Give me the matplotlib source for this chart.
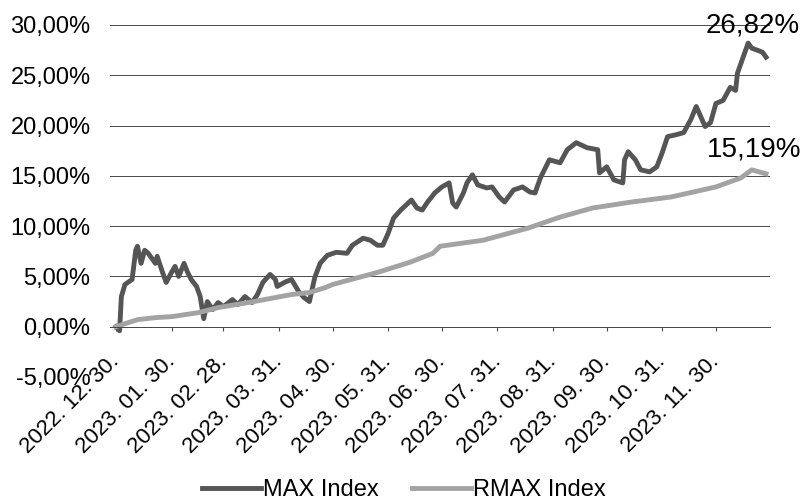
import matplotlib
matplotlib.use("Agg")
import matplotlib.pyplot as plt
import matplotlib.dates as mdates
from matplotlib.ticker import FuncFormatter
import numpy as np

plt.rcParams['font.family'] = ['Liberation Sans', 'DejaVu Sans']

# MAX Index (누적 수익률, %) - 그림에서 읽은 값
max_dates = ["2022-12-30", "2023-01-01", "2023-01-02", "2023-01-04", "2023-01-08", "2023-01-10",
             "2023-01-11", "2023-01-13", "2023-01-15", "2023-01-17", "2023-01-21", "2023-01-22",
             "2023-01-25", "2023-01-27", "2023-01-30", "2023-02-01", "2023-02-03", "2023-02-06",
             "2023-02-08", "2023-02-10", "2023-02-13", "2023-02-15", "2023-02-17", "2023-02-19",
             "2023-02-22", "2023-02-25", "2023-02-28", "2023-03-05", "2023-03-08", "2023-03-12",
             "2023-03-16", "2023-03-19", "2023-03-22", "2023-03-26", "2023-03-29", "2023-03-30",
             "2023-04-03", "2023-04-07", "2023-04-11", "2023-04-14", "2023-04-17", "2023-04-20",
             "2023-04-23", "2023-04-27", "2023-05-02", "2023-05-08", "2023-05-11", "2023-05-17",
             "2023-05-21", "2023-05-25", "2023-05-28", "2023-05-31", "2023-06-03", "2023-06-07",
             "2023-06-10", "2023-06-13", "2023-06-16", "2023-06-19", "2023-06-22", "2023-06-26",
             "2023-06-30", "2023-07-04", "2023-07-06", "2023-07-08", "2023-07-12", "2023-07-14",
             "2023-07-17", "2023-07-20", "2023-07-25", "2023-07-28", "2023-08-01", "2023-08-04",
             "2023-08-09", "2023-08-14", "2023-08-18", "2023-08-21", "2023-08-24", "2023-08-29",
             "2023-09-04", "2023-09-08", "2023-09-13", "2023-09-19", "2023-09-25", "2023-09-26",
             "2023-09-30", "2023-10-04", "2023-10-09", "2023-10-10", "2023-10-12", "2023-10-16",
             "2023-10-19", "2023-10-24", "2023-10-28", "2023-10-31", "2023-11-03", "2023-11-08",
             "2023-11-12", "2023-11-16", "2023-11-19", "2023-11-24", "2023-11-27", "2023-11-30",
             "2023-12-04", "2023-12-08", "2023-12-11", "2023-12-12", "2023-12-15", "2023-12-18",
             "2023-12-20", "2023-12-23", "2023-12-26", "2023-12-28"]
max_vals = [0.0, -0.4, 3.0, 4.2, 4.7, 7.6,
            8.0, 6.3, 7.6, 7.3, 6.3, 7.0,
            5.4, 4.4, 5.4, 6.0, 5.0, 6.3,
            5.4, 4.7, 4.0, 3.0, 0.8, 2.5,
            1.7, 2.4, 2.0, 2.7, 2.2, 3.0,
            2.4, 3.2, 4.4, 5.2, 4.7, 4.0,
            4.4, 4.7, 3.5, 2.9, 2.5, 4.9,
            6.3, 7.1, 7.4, 7.3, 8.1, 8.8,
            8.6, 8.1, 8.1, 9.3, 10.8, 11.6,
            12.1, 12.6, 11.8, 11.6, 12.4, 13.3,
            13.9, 14.3, 12.3, 11.9, 13.3, 14.3,
            15.1, 14.1, 13.8, 13.9, 12.9, 12.4,
            13.6, 13.9, 13.4, 13.3, 14.8, 16.6,
            16.3, 17.6, 18.3, 17.8, 17.6, 15.3,
            15.9, 14.6, 14.3, 16.6, 17.4, 16.6,
            15.6, 15.4, 15.9, 17.3, 18.9, 19.1,
            19.3, 20.6, 21.9, 19.9, 20.3, 22.2,
            22.5, 23.8, 23.5, 25.2, 26.7, 28.2,
            27.7, 27.5, 27.3, 26.8]

# RMAX Index
rmax_dates = ["2022-12-30", "2023-01-04", "2023-01-11", "2023-01-21", "2023-01-30", "2023-02-14",
              "2023-02-25", "2023-03-17", "2023-04-07", "2023-04-17", "2023-04-26", "2023-04-30",
              "2023-05-25", "2023-06-12", "2023-06-25", "2023-06-29", "2023-07-23", "2023-08-17",
              "2023-09-04", "2023-09-22", "2023-10-14", "2023-11-05", "2023-11-30", "2023-12-14",
              "2023-12-20", "2023-12-28"]
rmax_vals = [0.0, 0.3, 0.7, 0.9, 1.0, 1.4,
             1.9, 2.5, 3.2, 3.4, 3.9, 4.2,
             5.4, 6.4, 7.3, 8.0, 8.6, 9.8,
             10.9, 11.8, 12.4, 12.9, 13.9, 14.8,
             15.6, 15.2]

tick_dates = ["2022-12-30", "2023-01-30", "2023-02-28", "2023-03-31", "2023-04-30", "2023-05-31",
              "2023-06-30", "2023-07-31", "2023-08-31", "2023-09-30", "2023-10-31", "2023-11-30"]
tick_labels = ["2022. 12. 30.", "2023. 01. 30.", "2023. 02. 28.", "2023. 03. 31.", "2023. 04. 30.",
               "2023. 05. 31.", "2023. 06. 30.", "2023. 07. 31.", "2023. 08. 31.", "2023. 09. 30.",
               "2023. 10. 31.", "2023. 11. 30."]
max_last_label = "26,82%"
rmax_last_label = "15,19%"

xd_max = mdates.datestr2num(max_dates)
xd_rmax = mdates.datestr2num(rmax_dates)
xd_tick = mdates.datestr2num(tick_dates)

fig = plt.figure(figsize=(8.06, 5.03), dpi=100)
ax = fig.add_axes([110/806, 1-377/503, 660/806, 352/503])

grid_c = '#4a4a4a'
ax.set_ylim(-5, 30)
ax.set_yticks(np.arange(-5, 31, 5))
ax.yaxis.set_major_formatter(FuncFormatter(lambda v, p: f"{v:.2f}%".replace('.', ',')))
ax.grid(axis='y', color=grid_c, lw=0.7)
ax.set_axisbelow(True)

for s in ['top', 'right', 'left']:
    ax.spines[s].set_visible(False)
ax.spines['bottom'].set_position(('data', 0))
ax.spines['bottom'].set_color(grid_c)
ax.spines['bottom'].set_linewidth(0.7)

ax.tick_params(axis='y', length=0, labelsize=17, pad=14)
ax.tick_params(axis='x', length=3, color=grid_c, labelsize=16, pad=20)

x0 = mdates.datestr2num("2022-12-30")
ax.set_xlim(x0 - 3.35, x0 + 365.2)
ax.set_xticks(xd_tick)
ax.set_xticklabels(tick_labels)
plt.setp(ax.get_xticklabels(), rotation=45, ha='right', va='center', rotation_mode='anchor')

ax.plot(xd_max, max_vals, color='#555555', lw=3.5, label='MAX Index', solid_joinstyle='round')
ax.plot(xd_rmax, rmax_vals, color='#a3a3a3', lw=3.5, label='RMAX Index', solid_joinstyle='round')

ax.annotate(max_last_label, (xd_max[-1], max_vals[-1]), xytext=(-13, 32), textcoords='offset pixels',
            ha='center', va='center', fontsize=20)
ax.annotate(rmax_last_label, (xd_rmax[-1], rmax_vals[-1]), xytext=(-12, 24), textcoords='offset pixels',
            ha='center', va='center', fontsize=20)

fig.legend(loc='center', bbox_to_anchor=(404/806, 1-490/503), ncol=2, frameon=False,
           fontsize=17, handlelength=2.5, handletextpad=0.1, columnspacing=1.4)

fig.savefig('out.png', dpi=100)
